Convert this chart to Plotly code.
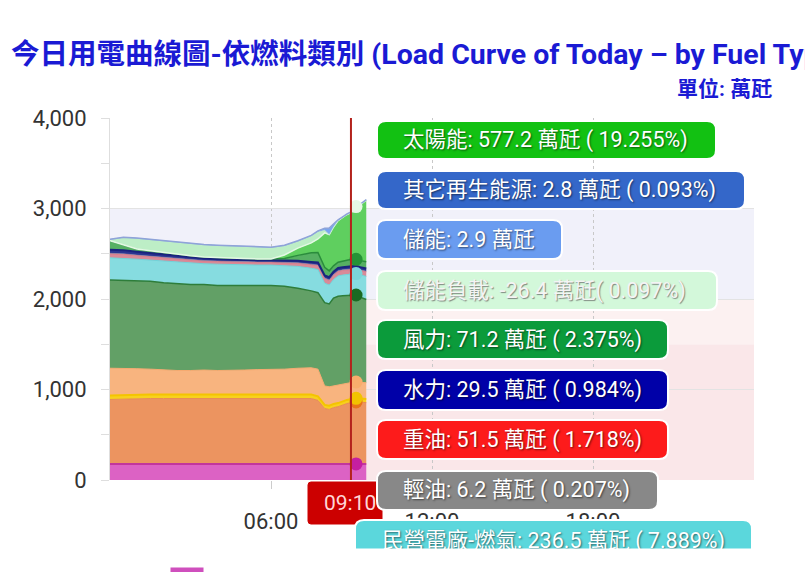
import numpy as np
import plotly.graph_objects as go

# ---------------- data ----------------
hours = [0, 0.5, 1, 1.5, 2, 2.5, 3, 3.5, 4, 4.5, 5, 5.5, 6, 6.5, 7, 7.5,
         7.75, 8.0, 8.17, 8.33, 8.5, 8.67, 8.83, 9.0, 9.17, 9.33, 9.55]

nuclear = [178, 178, 178, 178, 178, 178, 178, 178, 178, 178, 178, 178, 178, 178,
           178, 178, 178, 178, 178, 178, 178, 178, 178, 178, 178, 178, 178]
coal = [712, 717, 722, 722, 722, 722, 722, 722, 722, 722, 722, 722, 722, 722,
        722, 722, 702, 612, 602, 622, 632, 652, 667, 677, 684, 682, 677]
cogen = [45, 45, 45, 45, 45, 45, 45, 45, 45, 45, 45, 45, 45, 45,
         45, 45, 45, 40, 40, 40, 40, 40, 40, 40, 40, 40, 40]
ipp_coal = [300, 295, 285, 280, 270, 265, 265, 270, 265, 265, 270, 275, 275, 280,
            290, 295, 300, 210, 210, 200, 200, 190, 185, 183, 181, 180, 180]
lng = [975, 970, 970, 970, 965, 960, 950, 945, 940, 940, 935, 930, 930, 915,
       885, 850, 845, 920, 915, 970, 980, 975, 970, 966, 961, 940, 920]
ipp_lng = [245, 245, 240, 235, 240, 235, 235, 230, 235, 230, 228, 225, 225, 230,
           240, 250, 255, 215, 210, 205, 225, 230, 232, 236, 236.5, 245, 255]
heavy_oil = [45, 45, 40, 38, 35, 35, 32, 30, 30, 30, 30, 30, 30, 32,
             35, 40, 45, 50, 50, 50, 51, 51, 51, 51, 51.5, 51, 51]
light_oil = [5, 5, 5, 5, 5, 5, 5, 5, 5, 5, 5, 5, 5, 5,
             5, 5, 5, 6, 6, 6, 6, 6, 6, 6, 6.2, 6, 6]
hydro = [40, 40, 38, 35, 32, 30, 28, 25, 22, 20, 20, 18, 18, 20,
         22, 25, 28, 30, 30, 30, 30, 30, 30, 30, 29.5, 30, 30]
wind = [100, 60, 30, 25, 20, 20, 18, 15, 15, 15, 15, 15, 15, 20,
        60, 100, 110, 90, 70, 65, 65, 70, 70, 71, 71.2, 72, 75]
solar = [0, 0, 0, 0, 0, 0, 0, 0, 0, 0, 0, 0, 0, 40,
         80, 110, 150, 380, 400, 430, 460, 480, 505, 520, 577.2, 620, 680]
storage_load = [12, 80, 117, 122, 128, 130, 132, 135, 135, 135, 130, 129, 127, 103,
                78, 80, 77, 29, 0, 0, 0, 0, 0, 0, 0, 0, 0]
storage = [0, 0, 0, 0, 0, 0, 0, 0, 0, 0, 0, 0, 0, 0,
           0, 0, 10, 20, 70, 30, 5, 3, 3, 3, 2.9, 3, 3]
other_re = [3, 3, 3, 3, 3, 3, 3, 3, 3, 3, 3, 3, 3, 3,
            3, 3, 3, 3, 3, 3, 3, 3, 3, 3, 2.8, 3, 3]

x_tickvals = [6, 12, 18]
x_ticktext = ["06:00", "12:00", "18:00"]
y_tickvals = [0, 1000, 2000, 3000, 4000]

cursor_label = "09:10"
cursor_index = 24          # 09:10 point in `hours`
crosshair_hour = 8.98

tip_labels = ["太陽能", "其它再生能源", "儲能", "儲能負載", "風力", "水力", "重油", "輕油", "民營電廠-燃氣"]
tip_values = [577.2, 2.8, 2.9, -26.4, 71.2, 29.5, 51.5, 6.2, 236.5]
tip_pcts = ["19.255%", "0.093%", None, "0.097%", "2.375%", "0.984%", "1.718%", "0.207%", "7.889%"]

title_text = "今日用電曲線圖-依燃料類別 (Load Curve of Today – by Fuel Type)"
unit_text = "單位: 萬瓩"

# ---------------- layout geometry ----------------
W, H = 805, 572
ML, MR, MT, MB = 110, 51, 118, 92
PW, PH = W - ML - MR, H - MT - MB


def X(px):
    return (px - ML) / PW


def Y(py):
    return (H - MB - py) / PH


FONT = "Roboto, 'Noto Sans CJK TC', sans-serif"

series = [
    ("核能", nuclear, "#dc62c4", "#c2369c", 2),
    ("燃煤", coal, "#ec9460", "#e88a52", 1),
    ("汽電共生", cogen, "#f7d11e", "#f4c400", 2),
    ("民營電廠-燃煤", ipp_coal, "#f8b47f", "#f6aa70", 1),
    ("燃氣", lng, "#62a066", "#2e7d3a", 1.5),
    ("民營電廠-燃氣", ipp_lng, "#86dce0", "#6fd3d9", 1),
    ("重油", heavy_oil, "#d88a98", "#e07383", 1),
    ("輕油", light_oil, "#a59aa8", "#a59aa8", 0.5),
    ("水力", hydro, "#2b3592", "#1a237e", 2),
    ("風力", wind, "#56b063", "#2a8c3c", 1.5),
    ("太陽能", solar, "#5fcf5f", "#e4f8e4", 1.5),
    ("儲能負載", storage_load, "#bdeec6", "#bdeec6", 0.5),
    ("儲能", storage, "#7aa5ee", "#7aa5ee", 0.5),
    ("其它再生能源", other_re, "#8fa3d8", "#8fa3d8", 1.5),
]

fig = go.Figure()
for name, vals, fillc, linec, lw in series:
    fig.add_trace(go.Scatter(
        x=hours, y=vals, name=name, mode="lines", stackgroup="one",
        fillcolor=fillc, line=dict(color=linec, width=lw, shape="linear"),
        hoverinfo="skip", showlegend=False))

# markers at the cursor time on the stacked tops
cum = np.cumsum(np.array([s[1] for s in series], dtype=float), axis=0)
marker_specs = [(0, "#c51fa0"), (1, "#e8741a"), (2, "#f2c200"), (3, "#f8ad6c"),
                (4, "#1a6a22"), (5, "#7ad6da"), (9, "#249236"), (13, "#e6f8e6")]
fig.add_trace(go.Scatter(
    x=[hours[cursor_index]] * len(marker_specs),
    y=[cum[i, cursor_index] for i, _ in marker_specs],
    mode="markers",
    marker=dict(size=13, color=[c for _, c in marker_specs], line=dict(width=0)),
    hoverinfo="skip", showlegend=False, cliponaxis=False))

shapes = []
# background plot bands
for y0, y1, col in [(0, 1500, "#fae7e9"), (1500, 2000, "#fcf1f1"), (2000, 3000, "#f1f1fa")]:
    shapes.append(dict(type="rect", xref="paper", yref="y", x0=0, x1=1, y0=y0, y1=y1,
                       fillcolor=col, line=dict(width=0), layer="below"))

# crosshair
shapes.append(dict(type="line", xref="x", yref="paper", x0=crosshair_hour, x1=crosshair_hour,
                   y0=0, y1=1, line=dict(color="#b3221c", width=2), layer="above"))


def rrect(x0, x1, y0, y1, r, fill, lcol="white", lw=2):
    p = (f"M {X(x0 + r)},{Y(y0)} L {X(x1 - r)},{Y(y0)} Q {X(x1)},{Y(y0)} {X(x1)},{Y(y0 + r)} "
         f"L {X(x1)},{Y(y1 - r)} Q {X(x1)},{Y(y1)} {X(x1 - r)},{Y(y1)} "
         f"L {X(x0 + r)},{Y(y1)} Q {X(x0)},{Y(y1)} {X(x0)},{Y(y1 - r)} "
         f"L {X(x0)},{Y(y0 + r)} Q {X(x0)},{Y(y0)} {X(x0 + r)},{Y(y0)} Z")
    return dict(type="path", xref="paper", yref="paper", path=p, fillcolor=fill,
                line=dict(color=lcol, width=lw), layer="above")


# time label box
shapes.append(rrect(308, 382, 482, 524, 3, "#cc0000", lcol="#cc0000", lw=1))

tip_boxes = [(377, 716, 121, 159), (377, 745, 171, 209), (377, 562, 220, 259),
             (377, 717, 271, 310), (377, 668, 320, 359), (377, 668, 370, 410),
             (377, 668, 420, 459), (377, 658, 471, 510), (355, 752, 520, 566)]
tip_fills = ["#12c112", "#3467c9", "#6a9cf0", "#d3f8da", "#0b9b3b", "#0000a8",
             "#fd1b1b", "#888888", "#5bd7dc"]
tip_textcols = ["white", "white", "white", "#f4f4f4", "white", "white", "white", "white", "white"]
tip_shadows = ["1px 1px 2px rgba(0,0,0,0.55)"] * 3 + ["1px 1px 1px rgba(90,90,90,0.7)"] + \
              ["1px 1px 2px rgba(0,0,0,0.55)"] * 5
tip_seps = [" ", " ", " ", "", " ", " ", " ", " ", " "]
tip_textx = [401, 401, 401, 401, 401, 401, 401, 401, 380]

annotations = []
for i, (bx0, bx1, by0, by1) in enumerate(tip_boxes):
    shapes.append(rrect(bx0, bx1, by0, by1, 9, tip_fills[i]))
    txt = f"{tip_labels[i]}: {tip_values[i]} 萬瓩"
    if tip_pcts[i] is not None:
        txt += f"{tip_seps[i]}( {tip_pcts[i]})"
    cy = (by0 + by1) / 2 if i < len(tip_boxes) - 1 else 541
    annotations.append(dict(
        xref="paper", yref="paper", x=X(tip_textx[i]), y=Y(cy), xanchor="left", yanchor="middle",
        text=txt, showarrow=False,
        font=dict(family=FONT, size=21.5, color=tip_textcols[i], shadow=tip_shadows[i])))

# time label text
annotations.append(dict(
    xref="paper", yref="paper", x=X(322), y=Y(503), xanchor="left", yanchor="middle",
    text=cursor_label, showarrow=False, font=dict(family=FONT, size=21, color="#ffd6d6")))

# title + unit
annotations.append(dict(
    xref="paper", yref="paper", x=X(9), y=Y(55), xanchor="left", yanchor="middle",
    text=f"<b>{title_text}</b>", showarrow=False,
    font=dict(family=FONT, size=28.5, color="#1a1ad4")))
annotations.append(dict(
    xref="paper", yref="paper", x=X(774), y=Y(89), xanchor="right", yanchor="middle",
    text=f"<b>{unit_text}</b>", showarrow=False,
    font=dict(family=FONT, size=21, color="#1a1ad4")))

# container cut-off at the bottom
annotations.append(dict(
    xref="paper", yref="paper", x=X(0), y=Y(548), xanchor="left", yanchor="top",
    text=" ", showarrow=False, width=805, height=30, bgcolor="white", borderpad=0,
    font=dict(size=4)))
annotations.append(dict(
    xref="paper", yref="paper", x=X(170), y=Y(567), xanchor="left", yanchor="top",
    text=" ", showarrow=False, width=32, height=8, bgcolor="#cf4fbd", borderpad=0,
    font=dict(size=4)))

fig.update_layout(
    width=W, height=H,
    margin=dict(l=ML, r=MR, t=MT, b=MB, autoexpand=False),
    paper_bgcolor="white", plot_bgcolor="white",
    showlegend=False, hovermode=False,
    font=dict(family=FONT, color="#333333"),
    shapes=shapes, annotations=annotations,
    xaxis=dict(range=[0, 24], tickvals=x_tickvals, ticktext=x_ticktext,
               showgrid=True, gridcolor="#c8c8c8", griddash="dot", gridwidth=1,
               zeroline=False, showline=False, ticks="outside", ticklen=8,
               tickcolor="#cccccc", tickfont=dict(size=22, color="#333333"),
               ticklabelstandoff=14),
    yaxis=dict(range=[0, 4000], tickvals=y_tickvals, tickformat=",",
               showgrid=True, gridcolor="#e3e3e3", zeroline=False,
               showline=True, linecolor="#dedede", linewidth=1,
               ticks="outside", ticklen=8, tickcolor="#dedede",
               minor=dict(dtick=500, ticks="outside", ticklen=8, tickcolor="#dedede", showgrid=False),
               tickfont=dict(size=22, color="#333333"), ticklabelstandoff=10),
)

fig.write_html("out.html", config={"displayModeBar": False},
               post_script="document.body.style.margin='0px';")
